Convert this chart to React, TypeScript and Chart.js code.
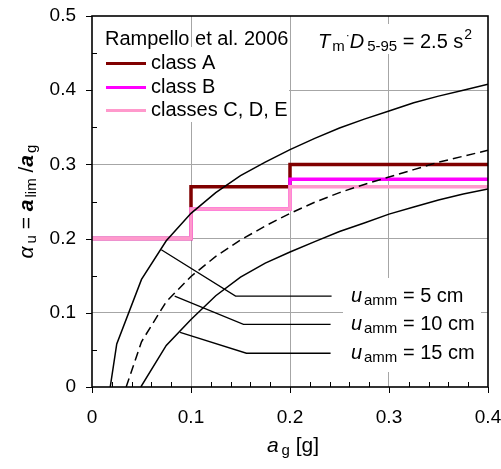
import React, { useEffect, useRef } from 'react';
import { Chart, registerables } from 'chart.js';

Chart.register(...registerables);

const FONT = "'Liberation Sans', Arial, Helvetica, sans-serif";

// Rampello et al. 2006 step limits
const stepX = [0, 0.1, 0.2, 0.4];
const classA = [0.2, 0.27, 0.3, 0.3];
const classB = [0.2, 0.24, 0.28, 0.28];
const classCDE = [0.2, 0.24, 0.27, 0.27];
const legendTitle = 'Rampello et al. 2006';
const legendLabels = ['class A', 'class B', 'classes C, D, E'];
const stepColors = ['#800000', '#ff00ff', '#ff99cc'];

// u_amm curves
const curve5X = [0.0184, 0.025, 0.05, 0.075, 0.1, 0.125, 0.15, 0.175, 0.2, 0.225, 0.25, 0.275, 0.3, 0.325, 0.35, 0.375, 0.4];
const curve5Y = [0, 0.058, 0.145, 0.197, 0.234, 0.262, 0.285, 0.303, 0.32, 0.335, 0.349, 0.361, 0.372, 0.383, 0.392, 0.4, 0.408];
const curve10X = [0.0345, 0.05, 0.075, 0.1, 0.125, 0.15, 0.175, 0.2, 0.225, 0.25, 0.275, 0.3, 0.325, 0.35, 0.375, 0.4];
const curve10Y = [0, 0.061, 0.115, 0.149, 0.176, 0.198, 0.217, 0.234, 0.249, 0.262, 0.273, 0.283, 0.293, 0.303, 0.311, 0.319];
const curve15X = [0.0493, 0.075, 0.1, 0.125, 0.15, 0.175, 0.2, 0.225, 0.25, 0.275, 0.3, 0.325, 0.35, 0.375, 0.4];
const curve15Y = [0, 0.056, 0.091, 0.123, 0.148, 0.167, 0.182, 0.196, 0.2095, 0.221, 0.233, 0.2425, 0.252, 0.26, 0.267];

// leader lines to the labels
const leader5X = [0.07, 0.145, 0.242];
const leader5Y = [0.185, 0.1225, 0.1225];
const leader10X = [0.0835, 0.153, 0.241];
const leader10Y = [0.1225, 0.0845, 0.0845];
const leader15X = [0.089, 0.156, 0.241];
const leader15Y = [0.0735, 0.0455, 0.0455];
const uLabels = ['5 cm', '10 cm', '15 cm'];
const uLabelX = 0.2615;
const uLabelY = [0.1225, 0.0845, 0.0455];

const xMin = 0, xMax = 0.4, xStep = 0.1;
const yMin = 0, yMax = 0.5, yStep = 0.1;

const pts = (xs: number[], ys: number[]) => xs.map((x, i) => ({ x, y: ys[i] }));

type Part = { t: string; size: number; italic?: boolean; bold?: boolean; dy?: number; gap?: number };
const fontOf = (p: Part) => `${p.italic ? 'italic ' : ''}${p.bold ? 'bold ' : ''}${p.size}px ${FONT}`;
function richWidth(ctx: CanvasRenderingContext2D, parts: Part[]) {
  let w = 0;
  for (const p of parts) {
    ctx.font = fontOf(p);
    w += ctx.measureText(p.t).width + (p.gap || 0);
  }
  return w;
}
function drawRich(ctx: CanvasRenderingContext2D, x: number, y: number, parts: Part[], align: 'left' | 'center' = 'left') {
  let cx = align === 'center' ? x - richWidth(ctx, parts) / 2 : x;
  ctx.textAlign = 'left';
  ctx.textBaseline = 'alphabetic';
  ctx.fillStyle = '#000';
  for (const p of parts) {
    ctx.font = fontOf(p);
    cx += (p.gap || 0);
    ctx.fillText(p.t, cx, y + (p.dy || 0));
    cx += ctx.measureText(p.t).width;
  }
}

const fmt = (v: number | string) => String(+Number(v).toFixed(2));

const noPad = (s: any) => {
  s.paddingTop = 0;
  s.paddingBottom = 0;
  s.paddingLeft = 0;
  s.paddingRight = 0;
};

const overlay = {
  id: 'overlay',
  beforeDatasetsDraw(chart: any) {
    const ctx = chart.ctx as CanvasRenderingContext2D;
    ctx.save();
    ctx.fillStyle = '#fff';
    ctx.fillRect(93, 47, 196, 75); // legend box
    ctx.fillRect(316, 24, 165, 30); // T_m D text
    ctx.fillRect(343, 278, 138, 94); // u_amm labels
    ctx.restore();
  },
  afterDatasetsDraw(chart: any) {
    const ctx = chart.ctx as CanvasRenderingContext2D;
    const { left, right, top, bottom } = chart.chartArea;
    const xs = chart.scales.x;
    const ys = chart.scales.y;
    ctx.save();
    // ticks
    ctx.strokeStyle = '#000';
    ctx.lineWidth = 1;
    ctx.beginPath();
    const xt = xs.ticks.map((t: any) => t.value);
    xt.forEach((v: number, i: number) => {
      const px = Math.round(xs.getPixelForValue(v)) + 0.5;
      ctx.moveTo(px, bottom);
      ctx.lineTo(px, bottom + 6);
      if (i < xt.length - 1) {
        const d = (xt[i + 1] - v) / 5;
        for (let k = 1; k < 5; k++) {
          const mx = Math.round(xs.getPixelForValue(v + d * k)) + 0.5;
          ctx.moveTo(mx, bottom);
          ctx.lineTo(mx, bottom - 5);
        }
      }
    });
    const yt = ys.ticks.map((t: any) => t.value);
    yt.forEach((v: number, i: number) => {
      const py = Math.round(ys.getPixelForValue(v)) + 0.5;
      ctx.moveTo(left - 6, py);
      ctx.lineTo(left, py);
      if (i < yt.length - 1) {
        const d = (yt[i + 1] - v) / 2;
        const my = Math.round(ys.getPixelForValue(v + d)) + 0.5;
        ctx.moveTo(left, my);
        ctx.lineTo(left + 5, my);
      }
    });
    ctx.stroke();
    // frame
    ctx.lineWidth = 1.6;
    ctx.strokeRect(left, top, right - left, bottom - top);

    // legend
    drawRich(ctx, 105, 45, [{ t: legendTitle, size: 20 }]);
    const rowY = [63.5, 87.5, 110.5];
    legendLabels.forEach((lab, i) => {
      ctx.strokeStyle = stepColors[i];
      ctx.lineWidth = 3;
      ctx.beginPath();
      ctx.moveTo(106, rowY[i]);
      ctx.lineTo(146, rowY[i]);
      ctx.stroke();
      drawRich(ctx, 151, rowY[i] + 5, [{ t: lab, size: 20 }]);
    });

    // T_m D_5-95 text
    drawRich(ctx, 318, 48, [
      { t: 'T', size: 20, italic: true },
      { t: 'm', size: 15, dy: 3, gap: 2 },
      { t: '·', size: 12, dy: -9, gap: 1 },
      { t: 'D', size: 20, italic: true },
      { t: '5-95', size: 15, dy: 3, gap: 3 },
      { t: ' = 2.5 s', size: 20 },
      { t: '2', size: 14, dy: -9, gap: 1 },
    ]);

    // u_amm labels
    uLabels.forEach((lab, i) => {
      const px = xs.getPixelForValue(uLabelX);
      const py = ys.getPixelForValue(uLabelY[i]);
      drawRich(ctx, px, py + 6, [
        { t: 'u', size: 20, italic: true },
        { t: 'amm', size: 15, dy: 3, gap: 2 },
        { t: ' = ' + lab, size: 20 },
      ]);
    });

    // x title
    drawRich(ctx, (left + right) / 2 + 3, 452, [
      { t: 'a', size: 21, italic: true },
      { t: 'g', size: 15, dy: 3, gap: 3 },
      { t: ' [g]', size: 21 },
    ], 'center');

    // y title
    ctx.save();
    ctx.translate(33, (top + bottom) / 2);
    ctx.rotate(-Math.PI / 2);
    drawRich(ctx, 0, 0, [
      { t: 'α', size: 21, italic: true },
      { t: 'u', size: 15, dy: 3, gap: 3 },
      { t: ' = ', size: 21 },
      { t: 'a', size: 21, italic: true, bold: true },
      { t: 'lim', size: 15, dy: 3, gap: 2 },
      { t: ' /', size: 21 },
      { t: 'a', size: 21, italic: true, bold: true },
      { t: 'g', size: 15, dy: 3, gap: 2 },
    ], 'center');
    ctx.restore();

    ctx.restore();
  },
};

export default function App() {
  const ref = useRef<HTMLCanvasElement | null>(null);
  useEffect(() => {
    if (!ref.current) return;
    const curveBase = { borderColor: '#000', borderWidth: 1.5, pointRadius: 0, fill: false, tension: 0 };
    const stepBase = { borderWidth: 3.5, pointRadius: 0, fill: false, stepped: 'before' as const };
    const chart = new Chart(ref.current, {
      type: 'line',
      data: {
        datasets: [
          { ...curveBase, label: 'u5', data: pts(curve5X, curve5Y) },
          { ...curveBase, label: 'u10', data: pts(curve10X, curve10Y), borderDash: [9, 5] },
          { ...curveBase, label: 'u15', data: pts(curve15X, curve15Y) },
          { ...curveBase, borderWidth: 1.3, label: 'l5', data: pts(leader5X, leader5Y) },
          { ...curveBase, borderWidth: 1.3, label: 'l10', data: pts(leader10X, leader10Y) },
          { ...curveBase, borderWidth: 1.3, label: 'l15', data: pts(leader15X, leader15Y) },
          { ...stepBase, label: legendLabels[2], borderColor: stepColors[2], data: pts(stepX, classCDE) },
          { ...stepBase, label: legendLabels[1], borderColor: stepColors[1], data: pts(stepX, classB) },
          { ...stepBase, label: legendLabels[0], borderColor: stepColors[0], data: pts(stepX, classA) },
        ] as any,
      },
      options: {
        animation: false,
        responsive: false,
        maintainAspectRatio: false,
        layout: { padding: { top: 16, right: 13, left: 0, bottom: 0 } },
        plugins: { legend: { display: false }, tooltip: { enabled: false } },
        elements: { point: { radius: 0 } },
        scales: {
          x: {
            type: 'linear',
            min: xMin,
            max: xMax,
            ticks: {
              stepSize: xStep,
              color: '#000',
              font: { family: FONT, size: 19 },
              padding: 19,
              maxRotation: 0,
              callback: (v: any) => fmt(v),
            },
            grid: {
              drawTicks: false,
              color: (c: any) => (c.tick && c.tick.value > xMin + 1e-9 && c.tick.value < xMax - 1e-9 ? '#a6a6a6' : 'rgba(0,0,0,0)'),
              lineWidth: 1,
            },
            border: { display: false },
            afterFit: (s: any) => { s.height = 82; noPad(s); },
          },
          y: {
            type: 'linear',
            min: yMin,
            max: yMax,
            ticks: {
              stepSize: yStep,
              color: '#000',
              font: { family: FONT, size: 19 },
              padding: 16,
              callback: (v: any) => fmt(v),
            },
            grid: {
              drawTicks: false,
              color: (c: any) => (c.tick && c.tick.value > yMin + 1e-9 && c.tick.value < yMax - 1e-9 ? '#a6a6a6' : 'rgba(0,0,0,0)'),
              lineWidth: 1,
            },
            border: { display: false },
            afterFit: (s: any) => { s.width = 92; noPad(s); },
          },
        },
      } as any,
      plugins: [overlay],
    });
    return () => chart.destroy();
  }, []);
  return (
    <div style={{ position: 'fixed', left: 0, top: 0, width: 501, height: 469, background: '#fff' }}>
      <canvas ref={ref} width={501} height={469} style={{ width: 501, height: 469, display: 'block' }} />
    </div>
  );
}
